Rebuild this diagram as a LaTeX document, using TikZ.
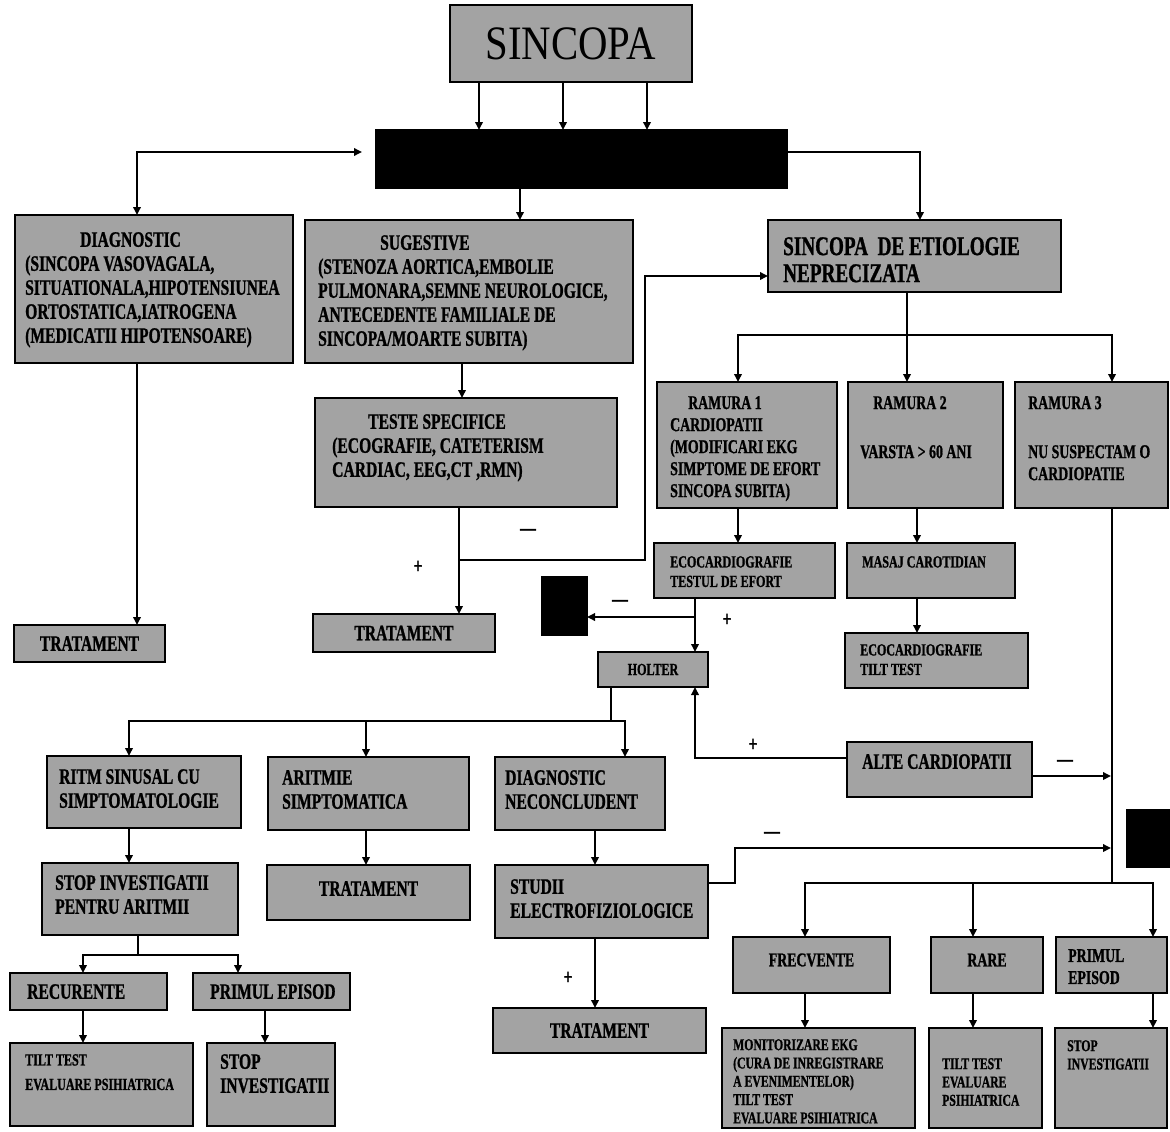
\documentclass[tikz,border=0pt]{standalone}
\usepackage{fontspec}
\setmainfont{Liberation Serif}
\newfontfamily\bxfont[FakeStretch=0.71,FakeBold=1]{Liberation Serif}
\newfontfamily\ttlfont[FakeStretch=0.85]{Liberation Serif}
\usetikzlibrary{arrows.meta}
\definecolor{boxgray}{gray}{0.64}
\tikzset{
  box/.style={draw=black, line width=2.4pt, fill=boxgray, anchor=north west, inner sep=0pt, outer sep=0pt},
  blk/.style={box, fill=black},
  txt/.style={inner sep=0pt, align=left, anchor=north west, text=black},
  tT/.style={font=\ttlfont\fontsize{48}{48}\selectfont},
  tA/.style={font=\bxfont\bfseries\fontsize{22}{24}\selectfont},
  tB/.style={font=\bxfont\bfseries\fontsize{19.5}{22}\selectfont},
  tC/.style={font=\bxfont\bfseries\fontsize{17}{19.5}\selectfont},
  tD/.style={font=\bxfont\bfseries\fontsize{16.5}{18.3}\selectfont},
  tE/.style={font=\bxfont\bfseries\fontsize{27}{27}\selectfont},
  ln/.style={draw=black, line width=1.8pt},
  arr/.style={ln, -{Triangle[length=8pt,width=7.5pt]}},
  arr2/.style={ln, {Triangle[length=8pt,width=7.5pt]}-{Triangle[length=8pt,width=7.5pt]}},
  lbl/.style={inner sep=0pt, font=\bxfont\bfseries\fontsize{22}{22}\selectfont},
}
% box with text placed from its top-left corner
\newcommand\bx[9][tA]{%
  \node[box, minimum width={(#5-#3)*1pt}, minimum height={(#6-#4)*1pt}] (#2) at (#3,#4) {};
  \node[txt,#1] (#2-t) at ({#3+#7},{#4+#8}) {#9};}
% box with centred text
\newcommand\bxc[8][tA]{%
  \node[box, minimum width={(#5-#3)*1pt}, minimum height={(#6-#4)*1pt}] (#2) at (#3,#4) {};
  \node[txt,#1,anchor=center,align=center] (#2-t) at ({(#3+#5)/2},{(#4+#6)/2+#7}) {#8};}

\begin{document}
\begin{tikzpicture}[x=1pt,y=-1pt]
\useasboundingbox (0,0) rectangle (1170,1132);
\fill[white] (0,0) rectangle (1170,1132);

\foreach \g in {83,129,238,265,366,459,462,479,520,563,595,625,647,695,738,805,917,973,1112,1153}
  \coordinate (g\g) at (\g,0);

% ---------- boxes ----------
\bxc[tT]{sincopa}{450}{5}{692}{82}{0}{SINCOPA}
\node[blk, minimum width=411pt, minimum height=58pt] (black) at (376,130) {};
\node[blk, minimum width=45pt, minimum height=58pt] (blk2) at (542,577) {};
\node[blk, minimum width=45pt, minimum height=57pt] (blk3) at (1127,810) {};

\bx[tA]{diag}{15}{215}{293}{363}{10}{17}{\hspace*{55pt}DIAGNOSTIC\\(SINCOPA VASOVAGALA,\\SITUATIONALA,HIPOTENSIUNEA\\ORTOSTATICA,IATROGENA\\(MEDICATII HIPOTENSOARE)}
\bx[tA]{sug}{305}{220}{633}{363}{13}{15}{\hspace*{62pt}SUGESTIVE\\(STENOZA AORTICA,EMBOLIE\\PULMONARA,SEMNE NEUROLOGICE,\\ANTECEDENTE FAMILIALE DE\\SINCOPA/MOARTE SUBITA)}
\bx[tE]{etiol}{768}{220}{1061}{292}{15}{17}{SINCOPA\ \ DE ETIOLOGIE\\NEPRECIZATA}
\bx[tA]{teste}{315}{398}{617}{507}{17}{16}{\hspace*{36pt}TESTE SPECIFICE\\(ECOGRAFIE, CATETERISM\\CARDIAC, EEG,CT ,RMN)}
\bxc[tA]{trat1}{14}{625}{165}{662}{0}{TRATAMENT}
\bxc[tA]{trat2}{313}{614}{495}{652}{0}{TRATAMENT}

\bx[tB]{ram1}{657}{382}{837}{508}{13}{14}{\hspace*{18pt}RAMURA 1\\CARDIOPATII\\(MODIFICARI EKG\\SIMPTOME DE EFORT\\SINCOPA SUBITA)}
\bx[tB]{ram2}{848}{382}{1003}{508}{12}{14}{\hspace*{13pt}RAMURA 2\\[27pt]VARSTA > 60 ANI}
\bx[tB]{ram3}{1015}{382}{1168}{508}{13}{14}{RAMURA 3\\[27pt]NU SUSPECTAM O\\CARDIOPATIE}

\bx[tC]{eco1}{654}{543}{835}{598}{16}{13}{ECOCARDIOGRAFIE\\TESTUL DE EFORT}
\bx[tC]{masaj}{847}{543}{1015}{598}{15}{13}{MASAJ CAROTIDIAN}
\bx[tC]{eco2}{845}{633}{1028}{688}{15}{11}{ECOCARDIOGRAFIE\\TILT TEST}
\bxc[tC]{holter}{598}{652}{708}{687}{0}{HOLTER}
\bx[tA]{alte}{847}{742}{1032}{797}{15}{12}{ALTE CARDIOPATII}

\bx[tA]{ritm}{47}{756}{241}{828}{12}{13}{RITM SINUSAL CU\\SIMPTOMATOLOGIE}
\bx[tA]{aritm}{268}{757}{469}{830}{14}{13}{ARITMIE\\SIMPTOMATICA}
\bx[tA]{dnec}{495}{757}{665}{830}{10}{13}{DIAGNOSTIC\\NECONCLUDENT}
\bx[tA]{stopi}{42}{863}{238}{935}{13}{12}{STOP INVESTIGATII\\PENTRU ARITMII}
\bxc[tA]{trat3}{267}{865}{470}{920}{-4}{TRATAMENT}
\bx[tA]{studii}{495}{865}{708}{938}{15}{14}{STUDII\\ELECTROFIZIOLOGICE}
\bxc[tA]{trat4}{493}{1008}{706}{1053}{0}{TRATAMENT}
\bx[tA]{recur}{10}{973}{167}{1010}{17}{11}{RECURENTE}
\bx[tA]{primul1}{193}{973}{350}{1010}{17}{11}{PRIMUL EPISOD}
\bx[tC]{tilt1}{10}{1043}{193}{1126}{15}{11}{TILT TEST\\[5pt]EVALUARE PSIHIATRICA}
\bx[tA]{stop1}{207}{1043}{335}{1126}{13}{11}{STOP\\INVESTIGATII}

\bxc[tB]{frecv}{733}{937}{890}{993}{-5}{FRECVENTE}
\bxc[tB]{rare}{931}{937}{1043}{993}{-5}{RARE}
\bx[tB]{primul2}{1056}{937}{1167}{993}{12}{12}{PRIMUL\\EPISOD}
\bx[tD]{monit}{722}{1028}{915}{1128}{11}{11}{MONITORIZARE EKG\\(CURA DE INREGISTRARE\\A EVENIMENTELOR)\\TILT TEST\\EVALUARE PSIHIATRICA}
\bx[tD]{tilt2}{929}{1028}{1042}{1128}{13}{30}{TILT TEST\\EVALUARE\\PSIHIATRICA}
\bx[tD]{stop2}{1055}{1028}{1167}{1128}{12}{12}{STOP\\INVESTIGATII}

% ---------- connectors ----------
\draw[arr] (sincopa.south -| g479) -- (black.north -| g479);
\draw[arr] (sincopa.south -| g563) -- (black.north -| g563);
\draw[arr] (sincopa.south -| g647) -- (black.north -| g647);

\coordinate (jl) at (137,152);
\draw[arr2, shorten <=14pt] (black.west |- jl) -| (diag.north -| jl);
\coordinate (jr) at (920,152);
\draw[arr] (black.east |- jr) -| (etiol.north -| jr);
\draw[arr] (black.south -| g520) -- (sug.north -| g520);
\draw[arr] (diag.south -| jl) -- (trat1.north -| jl);
\draw[arr] (sug.south -| g462) -- (teste.north -| g462);
\draw[arr] (teste.south -| g459) -- (trat2.north -| g459);
\coordinate (jt) at (459,560);
\coordinate (ju) at (645,276);
\draw[arr] (jt) -| (ju) -- (etiol.west |- ju);
\node[lbl] (m1) at (528,532) {—};
\node[lbl] (p1) at (418,567) {+};

\coordinate (je) at (907,335);
\draw[ln] (etiol.south -| je) -- (je);
\draw[arr] (je) -| (ram1.north -| g738);
\draw[arr] (je) -- (ram2.north -| je);
\draw[arr] (je) -| (ram3.north -| g1112);
\draw[arr] (ram1.south -| g738) -- (eco1.north -| g738);
\draw[arr] (ram2.south -| g917) -- (masaj.north -| g917);
\draw[arr] (masaj.south -| g917) -- (eco2.north -| g917);

\draw[arr] (eco1.south -| g695) -- (holter.north -| g695);
\coordinate (jh) at (695,617);
\draw[arr] (jh) -- (blk2.east |- jh);
\node[lbl] (m2) at (620,603) {—};
\node[lbl] (p2) at (727,620) {+};
\coordinate (ja) at (695,758);
\draw[arr] (alte.west |- ja) -| (holter.south -| ja);
\node[lbl] (p3) at (753,745) {+};

\coordinate (jb) at (1112,883);
\draw[ln] (ram3.south -| jb) -- (jb);
\coordinate (jc) at (1111,776);
\draw[arr] (alte.east |- jc) -- (jc);
\node[lbl] (m3) at (1065,763) {—};

\coordinate (jd) at (611,721);
\draw[ln] (holter.south -| jd) -- (jd);
\draw[arr] (jd) -| (ritm.north -| g129);
\draw[arr] (jd) -| (aritm.north -| g366);
\draw[arr] (jd) -| (dnec.north -| g625);
\draw[arr] (ritm.south -| g129) -- (stopi.north -| g129);
\draw[arr] (aritm.south -| g366) -- (trat3.north -| g366);
\draw[arr] (dnec.south -| g595) -- (studii.north -| g595);
\draw[arr] (studii.south -| g595) -- (trat4.north -| g595);
\node[lbl] (p4) at (568,978) {+};

\coordinate (js) at (735,883);
\coordinate (jf) at (735,848);
\coordinate (jg) at (1111,848);
\draw[arr] (studii.east |- js) -- (js) -- (jf) -- (jg);
\node[lbl] (m4) at (772,835) {—};

\draw[arr] (jb) -| (frecv.north -| g805);
\draw[arr] (jb) -| (rare.north -| g973);
\draw[arr] (jb) -| (primul2.north -| g1153);
\draw[arr] (frecv.south -| g805) -- (monit.north -| g805);
\draw[arr] (rare.south -| g973) -- (tilt2.north -| g973);
\draw[arr] (primul2.south -| g1153) -- (stop2.north -| g1153);

\coordinate (jk) at (138,955);
\draw[ln] (stopi.south -| jk) -- (jk);
\draw[arr] (jk) -| (recur.north -| g83);
\draw[arr] (jk) -| (primul1.north -| g238);
\draw[arr] (recur.south -| g83) -- (tilt1.north -| g83);
\draw[arr] (primul1.south -| g265) -- (stop1.north -| g265);
\end{tikzpicture}
\end{document}
